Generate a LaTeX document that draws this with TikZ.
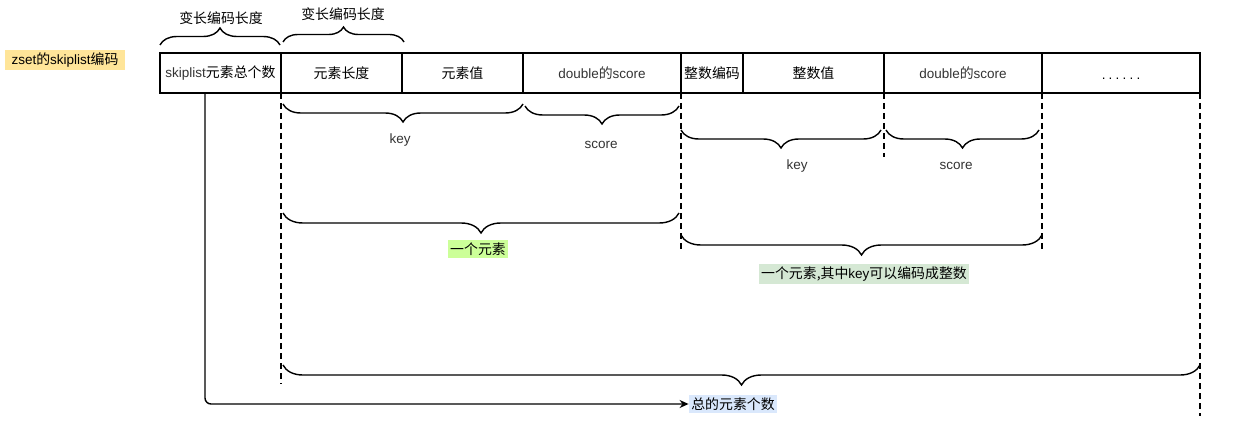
\documentclass[tikz,border=0pt]{standalone}
\usepackage{fontspec}
\setmainfont{Liberation Sans}
\newfontfamily\cjk[Scale=1.03]{Noto Sans CJK SC}
\usepackage{tikz}
\usetikzlibrary{arrows.meta,positioning,decorations.pathreplacing}
\definecolor{txtgray}{HTML}{333333}
\definecolor{tagyellow}{HTML}{FFE599}
\definecolor{taglime}{HTML}{CCFF99}
\definecolor{taggreen}{HTML}{D5E8D4}
\definecolor{tagblue}{HTML}{DAE8FC}
\tikzset{
  cell/.style={draw,line width=1.6pt,outer sep=0pt,minimum height=40pt,inner sep=0pt,font=\fontsize{13.5}{16}\selectfont},
  brc/.style={decorate,decoration={brace,amplitude=#1},line width=1.4pt},
  brc/.default=18pt,
  brcm/.style={brc=#1,decoration={mirror}},
  brcm/.default=18pt,
  dsh/.style={line width=1.4pt,dash pattern=on 6pt off 4pt},
  tag/.style={inner sep=2.5pt,font=\fontsize{13.5}{16}\selectfont},
  lbl/.style={font=\fontsize{13.5}{16}\selectfont,text=txtgray},
  ar/.style={-{Stealth[length=9pt,width=8pt]},line width=1.4pt,rounded corners=6pt}
}
\begin{document}
\begin{tikzpicture}[x=1pt,y=-1pt]
\useasboundingbox (0,0) rectangle (1237,441);
\node[tag,fill=tagyellow,minimum width=120pt] (title) at (65,60) {zset{\cjk 的}skiplist{\cjk 编码}};
\node[cell,minimum width=121pt] (cnt) at (220.5,73) {\textcolor{txtgray}{skiplist}{\cjk 元素总个数}};
\node[cell,minimum width=121pt,right=0pt of cnt] (len) {\cjk 元素长度};
\node[cell,minimum width=121pt,right=0pt of len] (val) {\cjk 元素值};
\node[cell,minimum width=158pt,right=0pt of val,text=txtgray] (dsc) {double{\cjk 的}score};
\node[cell,minimum width=62pt,right=0pt of dsc] (ienc) {\cjk 整数编码};
\node[cell,minimum width=141pt,right=0pt of ienc] (ival) {\cjk 整数值};
\node[cell,minimum width=158pt,right=0pt of ival,text=txtgray] (dsc2) {double{\cjk 的}score};
\node[cell,minimum width=158pt,right=0pt of dsc2] (more) {\raisebox{-7pt}[0pt][0pt]{.\hspace{3.2pt}.\hspace{3.2pt}.\hspace{3.2pt}.\hspace{3.2pt}.\hspace{3.2pt}.}};
\coordinate (t1) at (0,45); \coordinate (t2) at (0,42);
\coordinate (k1) at (0,104); \coordinate (s1) at (0,106);
\coordinate (k2) at (0,130); \coordinate (e1) at (0,213);
\coordinate (e2) at (0,235); \coordinate (all) at (0,365);
\draw[brc=17pt] (cnt.west |- t1) -- ([xshift=-1pt]cnt.east |- t1);
\draw[brc=15pt] ([xshift=2pt]len.west |- t2) -- ([xshift=2pt]len.east |- t2);
\node[font=\fontsize{13.5}{16}\selectfont\cjk] (vl1) at (221,18) {变长编码长度};
\node[font=\fontsize{13.5}{16}\selectfont\cjk] (vl2) at (343,14) {变长编码长度};
\draw[dsh] (len.south west) -- ++(0,291);
\draw[dsh] (ienc.south west) -- ++(0,159);
\draw[dsh] (ival.south east) -- ++(0,64);
\draw[dsh] (dsc2.south east) -- ++(0,157);
\draw[dsh] (more.south east) -- ++(0,323);
\draw[brcm] ([xshift=2pt]len.west |- k1) -- (val.east |- k1);
\draw[brcm] ([xshift=2pt]val.east |- s1) -- ([xshift=-2pt]dsc.east |- s1);
\draw[brcm] (ienc.west |- k2) -- ([xshift=-3pt]ival.east |- k2);
\draw[brcm] ([xshift=2pt]ival.east |- k2) -- ([xshift=-3pt]dsc2.east |- k2);
\draw[brcm=20pt] ([xshift=2pt]len.west |- e1) -- ([xshift=-2pt]dsc.east |- e1);
\draw[brcm=20pt] (ienc.west |- e2) -- (dsc2.east |- e2);
\draw[brcm=20pt] ([xshift=2pt]len.west |- all) -- (more.east |- all);
\node[lbl] (key1) at (400,140) {key};
\node[lbl] (sc1) at (601,145) {score};
\node[lbl] (key2) at (797,166) {key};
\node[lbl] (sc2) at (956,166) {score};
\node[tag,fill=taglime] (elem1) at (478,249) {\cjk 一个元素};
\node[tag,fill=taggreen] (elem2) at (864,274) {{\cjk 一个元素,其中}key{\cjk 可以编码成整数}};
\node[tag,fill=tagblue] (total) at (733,404) {\cjk 总的元素个数};
\draw[ar] ([xshift=-15.5pt]cnt.south) |- (total.west);
\end{tikzpicture}
\end{document}
